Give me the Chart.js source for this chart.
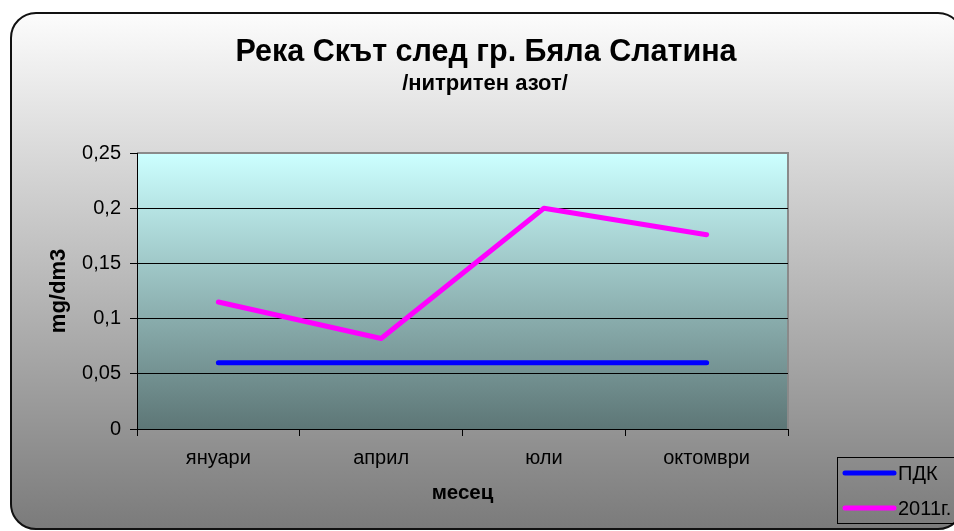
<!DOCTYPE html>
<html>
<head>
<meta charset="utf-8">
<script src="https://cdn.jsdelivr.net/npm/chart.js@4.4.1/dist/chart.umd.min.js"></script>
<style>
    html, body { margin: 0; padding: 0; background: #fff; width: 954px; height: 531px; overflow: hidden; }
    #frame {
        position: absolute; left: 10px; top: 12px; width: 950px; height: 514px;
        border: 2px solid #111; border-radius: 26px;
        background: linear-gradient(#fcfcfc, #7b7b7b);
    }
    #chart { position: absolute; left: 0; top: 0; }
</style>
</head>
<body>
<div id="frame"></div>
<canvas id="chart" width="954" height="531"></canvas>
<script>
const months = ['януари', 'април', 'юли', 'октомври'];
const pdkValues = [0.06, 0.06, 0.06, 0.06];
const values2011 = [0.115, 0.082, 0.2, 0.176];
const seriesNames = ['ПДК', '2011г.'];
const titleText = 'Река Скът след гр. Бяла Слатина';
const subtitleText = '/нитритен азот/';

document.addEventListener('DOMContentLoaded', () => {
    const ctx = document.getElementById('chart').getContext('2d');

    // plot background + gray frame of the plot area
    const plotBackground = {
        id: 'plotBackground',
        beforeDraw(chart) {
            const { ctx, chartArea: a } = chart;
            const g = ctx.createLinearGradient(0, a.top, 0, a.bottom);
            g.addColorStop(0, '#ccffff');
            g.addColorStop(1, '#5d7676');
            ctx.save();
            ctx.fillStyle = g;
            ctx.fillRect(a.left, a.top, a.right - a.left, a.bottom - a.top);
            ctx.strokeStyle = '#8a8a8a';
            ctx.lineWidth = 2;
            ctx.beginPath();
            ctx.moveTo(a.left, a.top);
            ctx.lineTo(a.right, a.top);
            ctx.lineTo(a.right, a.bottom);
            ctx.stroke();
            ctx.restore();
        }
    };

    // titles and the legend box in the lower right corner
    const decorations = {
        id: 'decorations',
        afterDraw(chart) {
            const c = chart.ctx;
            c.save();
            c.fillStyle = '#000';
            c.textAlign = 'center';
            c.textBaseline = 'alphabetic';
            c.font = 'bold 30.5px "Liberation Sans", Arial, sans-serif';
            c.fillText(titleText, 486, 61);
            c.font = 'bold 22px "Liberation Sans", Arial, sans-serif';
            c.fillText(subtitleText, 485, 90);

            // legend
            c.strokeStyle = '#000';
            c.lineWidth = 1;
            c.strokeRect(837.5, 457.5, 130, 66);
            c.textAlign = 'left';
            c.textBaseline = 'middle';
            c.font = '20px "Liberation Sans", Arial, sans-serif';
            chart.data.datasets.forEach((ds, i) => {
                const y = 473 + i * 35;
                c.strokeStyle = ds.borderColor;
                c.lineWidth = 5;
                c.lineCap = 'round';
                c.beginPath();
                c.moveTo(845, y);
                c.lineTo(894, y);
                c.stroke();
                c.fillStyle = '#000';
                c.fillText(ds.label, 898, y + 1);
            });
            c.restore();
        }
    };

    new Chart(ctx, {
        type: 'line',
        data: {
            labels: months,
            datasets: [{
                label: seriesNames[0],
                data: pdkValues,
                borderColor: '#0000ff',
                borderWidth: 5,
                pointRadius: 0,
                borderCapStyle: 'round',
                borderJoinStyle: 'round',
                tension: 0,
                fill: false
            }, {
                label: seriesNames[1],
                data: values2011,
                borderColor: '#ff00ff',
                borderWidth: 5,
                pointRadius: 0,
                borderCapStyle: 'round',
                borderJoinStyle: 'round',
                tension: 0,
                fill: false
            }]
        },
        options: {
            responsive: false,
            animation: false,
            layout: { padding: { left: 10, top: 153, right: 166, bottom: 12 } },
            plugins: {
                legend: { display: false },
                title: { display: false },
                tooltip: { enabled: false }
            },
            scales: {
                x: {
                    offset: true,
                    afterFit: (scale) => { scale.height = 90; },
                    grid: {
                        offset: true,
                        drawOnChartArea: false,
                        drawTicks: true,
                        tickLength: 7,
                        color: '#000'
                    },
                    border: { color: '#000', width: 1 },
                    ticks: {
                        color: '#000',
                        padding: 10,
                        font: { family: '"Liberation Sans", Arial', size: 20 }
                    },
                    title: {
                        display: true,
                        text: 'месец',
                        color: '#000',
                        padding: { top: 0, bottom: 13 },
                        font: { family: '"Liberation Sans", Arial', size: 20.5, weight: 'bold' }
                    }
                },
                y: {
                    min: 0,
                    max: 0.25,
                    afterFit: (scale) => { scale.width = 127; },
                    grid: {
                        drawTicks: true,
                        tickLength: 7,
                        color: (c) => (c.tick && c.tick.value >= 0.25 ? 'rgba(0,0,0,0)' : '#000'),
                        tickColor: '#000'
                    },
                    border: { color: '#000', width: 1 },
                    ticks: {
                        stepSize: 0.05,
                        color: '#000',
                        padding: 9,
                        font: { family: '"Liberation Sans", Arial', size: 20 },
                        callback: (v) => String(+v.toFixed(2)).replace('.', ',')
                    },
                    title: {
                        display: true,
                        text: 'mg/dm3',
                        color: '#000',
                        padding: { top: 36, bottom: 0 },
                        font: { family: '"Liberation Sans", Arial', size: 22, weight: 'bold' }
                    }
                }
            }
        },
        plugins: [plotBackground, decorations]
    });
});
</script>
</body>
</html>
